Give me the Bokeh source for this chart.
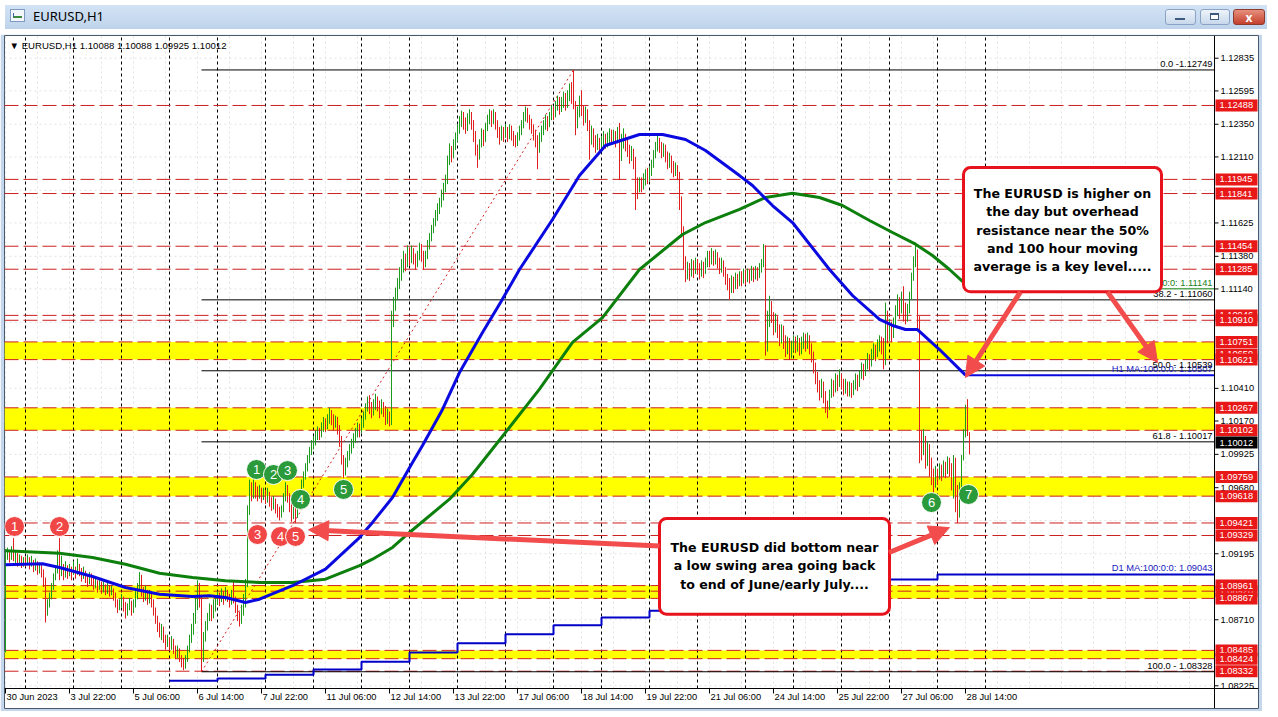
from bokeh.plotting import figure
from bokeh.models import (Range1d, Label, BoxAnnotation, Arrow, NormalHead, Div)
from bokeh.layouts import column
from bokeh.core.properties import value
from bokeh.embed import file_html
from bokeh.resources import INLINE

# ---------------------------------------------------------------- data
SYMBOL = "EURUSD,H1"
last_ohlc = ["1.10088", "1.10088", "1.09925", "1.10012"]

PIP_BASE = 1.08000          # bar values below are pips above 1.08000
first_open = 50

bar_close = [
    118,120,116,121,117,119,114,116,113,115,
    113,116,112,114,110,112,108,110,106,100,76,82,88,95,102,108,112,106,110,104,109,105,108,104,
    108,105,110,107,103,106,102,99,103,100,96,99,95,98,94,96,92,95,91,93,89,84,80,83,
    86,81,76,80,84,78,82,88,94,100,92,88,91,86,89,84,78,72,67,62,65,58,54,57,
    52,55,50,46,48,43,40,37,42,49,56,63,70,80,92,85,44,58,66,72,78,74,80,84,
    88,85,90,86,91,88,84,89,86,80,74,70,78,84,97,150,168,164,170,166,162,166,163,165,
    160,163,158,155,158,153,150,148,152,160,168,162,154,148,152,147,156,163,170,176,182,188,194,199,
    202,206,210,207,212,216,213,218,222,219,215,218,212,204,190,180,186,191,196,200,204,208,212,210,
    215,220,226,231,228,224,229,233,229,225,229,224,218,222,218,290,302,310,318,324,330,337,332,340,
    336,341,337,333,338,344,339,333,338,345,351,357,362,367,372,377,382,388,393,408,416,412,419,424,
    430,436,441,437,433,438,442,436,428,418,411,420,428,424,432,438,443,438,442,436,430,426,431,427,
    431,427,432,428,424,421,426,430,435,440,445,440,436,432,428,424,418,425,430,434,438,435,441,446,
    443,448,452,447,451,455,450,455,460,456,450,436,444,451,446,440,444,436,425,430,424,419,423,418,
    422,426,421,425,429,424,428,423,429,412,420,426,420,416,412,415,408,392,388,392,390,395,398,396,
    400,405,412,418,423,419,415,418,412,407,410,404,400,403,398,380,358,335,324,330,326,332,328,334,
    330,326,331,328,333,338,335,340,336,339,334,330,333,328,322,318,314,320,316,322,318,324,320,325,
    321,326,322,327,323,328,324,329,332,343,272,290,302,294,286,292,284,278,284,276,270,275,268,272,
    277,272,276,270,274,279,274,278,272,266,258,250,244,238,244,236,228,226,236,244,240,248,244,250,
    245,240,244,239,242,238,243,248,244,250,256,252,258,263,259,265,270,266,272,276,271,262,292,280,
    286,280,288,296,304,298,306,300,294,298,308,322,334,340,292,202,196,204,190,198,186,178,172,180,
    176,182,178,184,180,186,182,174,186,166,150,165,190,208,224,208.8,201.2,
]
bar_high = [
    123,124,122,125,131,121,120,119,118,117,
    117,119,117,118,115,116,114,113,111,108,102,86,91,98,105,111,122,131,118,112,114,111,112,110,
    114,110,116,112,109,110,107,104,106,105,102,102,100,101,99,99,97,98,96,96,94,91,86,86,
    90,88,84,83,87,85,86,92,98,106,104,95,96,93,93,90,86,80,74,69,68,66,60,60,
    58,59,57,52,52,50,45,43,45,52,60,68,76,88,100,98,88,62,70,76,83,82,86,89,
    92,91,94,92,95,93,90,93,99,88,82,77,82,90,101,155,174,172,174,172,169,170,168,168,
    166,168,165,161,162,160,156,154,155,164,172,170,164,157,156,154,160,167,174,180,186,192,198,203,
    206,210,213,212,216,220,219,222,227,225,222,221,220,214,206,192,190,195,200,204,208,212,216,215,
    219,224,230,235,236,231,233,237,235,232,233,231,228,226,224,298,308,315,322,330,336,342,340,346,
    344,346,344,340,342,348,347,342,342,350,355,361,366,372,377,381,387,392,398,412,421,419,424,429,
    435,441,445,444,440,443,446,444,438,430,420,424,432,431,436,442,446,445,446,444,438,433,434,433,
    435,433,435,434,430,427,429,434,438,444,448,447,442,439,435,431,427,429,434,438,442,441,444,449,
    448,452,456,455,455,459,458,460,465,466,475,452,448,456,460,449,448,446,438,434,432,427,428,425,
    426,430,428,429,432,431,431,430,433,436,428,432,428,424,420,419,417,411,396,396,396,399,402,403,
    404,409,416,422,427,425,422,421,420,415,414,412,408,407,405,400,382,360,338,334,333,336,335,337,
    336,333,335,334,337,342,342,344,342,343,341,337,337,335,330,325,322,324,323,326,325,327,327,329,
    328,329,328,331,330,331,330,333,336,347,346,298,309,305,297,296,294,288,288,287,280,279,278,276,
    280,279,280,278,279,282,281,282,280,274,268,260,253,247,248,246,239,232,240,248,247,252,251,255,
    252,248,248,246,246,245,247,252,251,254,260,259,262,267,266,270,274,273,277,280,279,278,304,298,
    292,290,293,302,310,308,312,316,304,303,312,326,338,348,343,294,210,211,206,202,200,190,182,184,
    182,186,185,188,187,191,190,186,192,190,170,172,192,211,229,233,208.8,
]
bar_low = [
    47,115,113,115,114,112,110,111,109,110,
    110,111,108,110,106,107,104,105,102,95,69,74,80,86,93,100,105,100,103,100,102,101,103,100,
    104,101,104,103,99,101,98,95,97,96,93,94,91,93,90,91,89,90,88,89,85,80,76,78,
    80,77,72,74,78,74,76,80,86,92,88,84,85,82,83,80,74,68,62,58,56,54,49,51,
    48,49,46,42,43,40,36,34,35,40,47,54,60,68,78,80,33,40,55,63,70,70,72,77,
    82,81,84,82,85,84,80,82,83,76,70,66,68,74,80,95,148,158,160,160,158,160,157,159,
    156,157,154,151,152,149,146,144,146,150,158,157,150,143,145,142,146,154,161,168,174,180,186,192,
    196,199,203,203,205,209,209,211,215,214,210,212,207,198,185,175,177,183,188,193,197,201,205,205,
    208,212,218,224,222,219,221,225,224,219,222,220,214,215,213,214,286,298,306,314,320,326,327,330,
    331,333,332,328,330,335,334,328,330,336,343,349,355,360,364,369,374,379,385,391,405,407,410,416,
    422,428,433,431,428,430,435,431,422,412,403,409,418,419,422,430,435,433,435,431,425,420,423,422,
    425,422,424,423,419,418,419,423,427,432,437,436,431,428,423,418,402,414,422,427,431,430,433,438,
    438,440,445,442,444,447,445,447,452,450,446,427,432,440,441,434,436,430,409,420,418,414,416,414,
    416,419,417,418,421,420,421,418,421,394,408,417,415,411,406,408,402,372,380,385,385,387,390,391,
    393,397,403,410,415,414,410,411,407,402,403,399,396,397,394,372,352,328,319,321,320,323,322,325,
    325,321,323,322,325,330,330,332,331,332,329,325,326,323,317,313,306,311,311,314,314,316,316,318,
    317,319,318,320,319,321,320,322,326,330,265,268,286,289,280,282,278,272,274,270,264,266,262,263,
    268,267,268,265,266,270,268,270,266,260,252,244,238,232,234,230,223,219,225,234,235,238,239,242,
    240,236,237,235,235,234,236,240,239,242,248,247,250,255,254,257,262,261,264,268,266,255,258,274,
    276,275,278,286,294,292,296,290,288,290,296,306,320,330,285,186,188,192,182,184,176,170,164,168,
    170,174,173,176,175,178,176,166,160,150,142,146,160,188,205,206,192.5,
]

# time axis (bar index of each label) and labels
x_tick_bars = [0, 32, 64, 96, 128, 160, 192, 224, 256, 288, 320, 352, 384, 416, 448, 480]
x_tick_labels = ["30 Jun 2023", "3 Jul 22:00", "5 Jul 06:00", "6 Jul 14:00", "7 Jul 22:00",
                 "11 Jul 06:00", "12 Jul 14:00", "13 Jul 22:00", "17 Jul 06:00", "18 Jul 14:00",
                 "19 Jul 22:00", "21 Jul 06:00", "24 Jul 14:00", "25 Jul 22:00", "27 Jul 06:00",
                 "28 Jul 14:00"]
day_start_bars = [10, 34, 58, 82, 106, 130, 154, 178, 202, 226, 250, 274, 298, 322, 346,
                  370, 394, 418, 442, 466, 490]

# price axis
price_ticks = [1.12835, 1.12595, 1.12350, 1.12110, 1.11625, 1.11380, 1.11140, 1.10410,
               1.10170, 1.09925, 1.09680, 1.09195, 1.08710, 1.08225]
price_grid = [1.12835, 1.12595, 1.12350, 1.12110, 1.11865, 1.11625, 1.11380, 1.11140,
              1.10895, 1.10655, 1.10410, 1.10170, 1.09925, 1.09680, 1.09440, 1.09195,
              1.08955, 1.08710, 1.08470, 1.08225]

# horizontal levels
level_lines = [1.12488, 1.11945, 1.11841, 1.11454, 1.11285, 1.10946, 1.10910, 1.10751,
               1.10621, 1.10267, 1.10102, 1.09759, 1.09618, 1.09421, 1.09329, 1.08961,
               1.08920, 1.08867, 1.08485, 1.08424, 1.08332]
level_labels = [1.12488, 1.11945, 1.11841, 1.11454, 1.11285, 1.10946, 1.10910, 1.10751,
                1.10659, 1.10621, 1.10267, 1.10102, 1.09759, 1.09618, 1.09421, 1.09329,
                1.08920, 1.08961, 1.08867, 1.08485, 1.08424, 1.08332]
zone_top = [1.10751, 1.10267, 1.09759, 1.08961, 1.08485]
zone_bottom = [1.10621, 1.10102, 1.09618, 1.08867, 1.08424]
current_price = 1.10012

# Fibonacci retracement
fib_low_bar, fib_high_bar = 98, 284
fib_low, fib_high = 1.08328, 1.12749
fib_levels = [1.12749, 1.11060, 1.10539, 1.10017, 1.08328]
fib_texts = ["0.0 -1.12749", "38.2 - 1.11060", "50.0 - 1.10539", "61.8 - 1.10017", "100.0 - 1.08328"]

# moving averages
ma100_bar = [0, 18.5, 27, 43.5, 60, 77, 93.5, 102, 110, 120, 127, 143.5, 160, 177, 183.5, 193.5,
             203.5, 208.5, 218.5, 227, 238.5, 247.5, 257, 273.5, 287, 300, 317, 328.5, 340, 350,
             367, 373.5, 383.5, 393.5, 412, 423.5, 437, 443.5, 450, 456, 467, 480]
ma100_val = [1.09114, 1.09121, 1.09094, 1.09028, 1.08947, 1.08898, 1.08881, 1.08886, 1.08874,
             1.08837, 1.08861, 1.08960, 1.09082, 1.09314, 1.09425, 1.09608, 1.09865, 1.09990,
             1.10255, 1.10526, 1.10820, 1.11041, 1.11283, 1.11650, 1.11973, 1.12194, 1.12275,
             1.12275, 1.12238, 1.12157, 1.11973, 1.11900, 1.11753, 1.11628, 1.11283, 1.11092,
             1.10916, 1.10872, 1.10842, 1.10842, 1.10695, 1.10507]
ma200_bar = [0, 27, 43.5, 60, 77, 93.5, 110, 127, 143.5, 160, 177, 183.5, 193.5, 202, 222, 233.5,
             250, 267, 283.5, 298.5, 317, 338.5, 350, 367, 380, 393.5, 407, 418.5, 432, 443.5,
             455, 463.5, 472, 480]
ma200_val = [1.09217, 1.09199, 1.09167, 1.09118, 1.09052, 1.09021, 1.08996, 1.08984, 1.08984,
             1.09008, 1.09107, 1.09155, 1.09241, 1.09351, 1.09596, 1.09779, 1.10086, 1.10404,
             1.10747, 1.10930, 1.11283, 1.11540, 1.11628, 1.11724, 1.11812, 1.11843, 1.11812,
             1.11753, 1.11643, 1.11555, 1.11469, 1.11386, 1.11283, 1.11175]
h1_ma100_now, h1_ma200_now = 1.10507, 1.11141
d1_ma_bar = [82, 106, 130, 154, 178, 202, 226, 250, 274, 298, 322, 346, 370, 394, 418, 442, 466]
d1_ma_val = [1.08262, 1.08279, 1.08306, 1.08345, 1.08401, 1.08470, 1.08538, 1.08604, 1.08670,
             1.08727, 1.08776, 1.08822, 1.08870, 1.08915, 1.08960, 1.09006, 1.09043]

# numbered swing markers
red_mark_bar = [4.5, 27, 126, 137.5, 145]
red_mark_price = [1.09395, 1.09395, 1.09336, 1.09322, 1.09322]
red_mark_text = ["1", "2", "3", "4", "5"]
green_mark_bar = [125.5, 134, 141, 147.5, 169, 463, 481.5]
green_mark_price = [1.09814, 1.09777, 1.09806, 1.09594, 1.09667, 1.09571, 1.09630]
green_mark_text = ["1", "2", "3", "4", "5", "6", "7"]

# notes
note1_lines = ["The EURUSD is higher on", "the day but overhead", "resistance near the 50%",
               "and 100 hour moving", "average is a key level....."]
note1_y = [1.11839, 1.11707, 1.11572, 1.11439, 1.11307]
note1_box = (479, 578, 1.12032, 1.11119)
note2_lines = ["The EURUSD did bottom near", "a low swing area going back",
               "to end of June/early July...."]
note2_y = [1.09241, 1.09107, 1.08971]
note2_box = (327, 442, 1.09454, 1.08751)
note_arrows = [(507.5, 1.11119, 480, 1.10490), (551, 1.11119, 576, 1.10600),
               (327, 1.09251, 151.5, 1.09371), (441.8, 1.09204, 472, 1.09387)]

# ---------------------------------------------------------------- layout / styles
CHART_W, CHART_H = 1210, 653          # price-chart area in px
FRAME_W, FRAME_H = 1254, 673          # chart + price scale + time scale
X_START, X_END = -0.5, 604.5          # bar-index span of the chart area
Y_LOW, Y_HIGH = 1.08205, 1.13002      # price span of the chart area
BAR_PX = (X_END - X_START) / CHART_W
PRICE_PX = (Y_HIGH - Y_LOW) / CHART_H
FRAME_X_END = X_START + FRAME_W * BAR_PX
FRAME_Y_LOW = Y_HIGH - FRAME_H * PRICE_PX

UP, DOWN = "#1c9a1c", "#e01e1e"
LEVEL_RED = "#cc1f1f"
TAG_RED = "#e81818"
ARROW_RED = "#f24c4c"
FONT = "Liberation Sans"
FS = "9.3px"
GRID = "#e2e2e2"

def price(v):
    return PIP_BASE + v / 10000.0

opens = [first_open] + bar_close[:-1]
idx = list(range(len(bar_close)))
hi_p = [price(v) for v in bar_high]
lo_p = [price(v) for v in bar_low]
bar_col = [UP if c >= o else DOWN for o, c in zip(opens, bar_close)]

p = figure(width=1262, height=677, title=None,
           x_range=Range1d(X_START, FRAME_X_END), y_range=Range1d(FRAME_Y_LOW, Y_HIGH),
           x_axis_location=None, y_axis_location=None,
           toolbar_location=None, output_backend="svg",
           min_border_left=4, min_border_right=4, min_border_top=1, min_border_bottom=3,
           background_fill_color="white", border_fill_color="#c5d7ec")
p.outline_line_color = "#4a5a6a"
p.outline_line_width = 1
p.xgrid.visible = False
p.ygrid.visible = False

# light grid (chart area only)
vgrid = list(range(0, 605, 16))
p.segment(x0=vgrid, x1=vgrid, y0=[Y_LOW] * len(vgrid), y1=[Y_HIGH] * len(vgrid),
          line_color=GRID, line_dash="2 3", line_width=1)
p.segment(x0=[X_START] * len(price_grid), x1=[X_END] * len(price_grid), y0=price_grid,
          y1=price_grid, line_color=GRID, line_dash="2 3", line_width=1)

# zones, separators, levels
p.quad(left=X_START, right=X_END, top=zone_top, bottom=zone_bottom, fill_color="#ffff00",
       line_alpha=0)
p.segment(x0=day_start_bars, x1=day_start_bars, y0=[Y_LOW] * len(day_start_bars),
          y1=[Y_HIGH] * len(day_start_bars), line_color="black", line_dash="3 3", line_width=1)
p.segment(x0=[X_START] * len(level_lines), x1=[X_END] * len(level_lines), y0=level_lines,
          y1=level_lines, line_color=LEVEL_RED, line_dash="14 5", line_width=1)

# fibonacci
p.segment(x0=[fib_low_bar] * len(fib_levels), x1=[X_END] * len(fib_levels),
          y0=fib_levels, y1=fib_levels, line_color="black", line_width=1)
p.segment(x0=[fib_low_bar], y0=[fib_low], x1=[fib_high_bar], y1=[fib_high],
          line_color="#d42020", line_dash="2 3", line_width=1)

# bars
p.segment(x0=idx, x1=idx, y0=lo_p, y1=hi_p, line_color=bar_col, line_width=1)

# moving averages
p.line(ma200_bar, ma200_val, line_color="#0c7f0c", line_width=3)
p.line(ma100_bar, ma100_val, line_color="#0a0ae0", line_width=3)
p.segment(x0=[ma100_bar[-1]], x1=[X_END], y0=[h1_ma100_now], y1=[h1_ma100_now],
          line_color="#0a0ae0", line_width=2)
p.segment(x0=[ma200_bar[-1]], x1=[X_END], y0=[h1_ma200_now], y1=[h1_ma200_now],
          line_color="#0c7f0c", line_width=1)
p.step(d1_ma_bar + [X_END], d1_ma_val + [d1_ma_val[-1]], mode="after",
       line_color="#0000c8", line_width=2)

# object texts on the right of the chart
right_texts = fib_texts + ["H1 MA:100:0:0: %.5f" % h1_ma100_now,
                           "D1 MA:100:0:0: %.5f" % d1_ma_val[-1],
                           "H1 MA:200:0:0: %.5f" % h1_ma200_now]
right_y = fib_levels + [h1_ma100_now, d1_ma_val[-1], h1_ma200_now]
right_col = ["black"] * len(fib_texts) + ["#2020c0", "#2020c0", "#208020"]
order = [5, 7, 6, 0, 1, 2, 3, 4]
p.text(x=[X_END] * len(order), y=[right_y[k] for k in order], text=[right_texts[k] for k in order],
       text_color=[right_col[k] for k in order], x_offset=-2, y_offset=-1,
       text_align="right", text_baseline="bottom",
       text_font=value(FONT), text_font_size=value(FS))

# swing markers
p.scatter(red_mark_bar, red_mark_price, size=20, fill_color="#f04646", line_color="white",
          line_width=1)
p.text(red_mark_bar, red_mark_price, text=red_mark_text, text_color="white",
       text_align="center", text_baseline="middle", text_font=value(FONT),
       text_font_size=value("13px"))
p.scatter(green_mark_bar, green_mark_price, size=20, fill_color="#2a9a3a", line_color="white",
          line_width=1)
p.text(green_mark_bar, green_mark_price, text=green_mark_text, text_color="white",
       text_align="center", text_baseline="middle", text_font=value(FONT),
       text_font_size=value("13px"))

# ---- price scale (right) and time scale (bottom)
p.segment(x0=[X_END], x1=[X_END], y0=[FRAME_Y_LOW], y1=[Y_HIGH], line_color="black", line_width=1)
p.segment(x0=[X_START], x1=[FRAME_X_END], y0=[Y_LOW], y1=[Y_LOW], line_color="black", line_width=1)
p.segment(x0=[X_END] * len(price_ticks), x1=[X_END + 4 * BAR_PX] * len(price_ticks),
          y0=price_ticks, y1=price_ticks, line_color="black", line_width=1)
p.text(x=[X_END] * len(price_ticks), y=price_ticks, text=["%.5f" % v for v in price_ticks],
       x_offset=6, text_align="left", text_baseline="middle", text_color="black",
       text_font=value(FONT), text_font_size=value(FS))
p.segment(x0=x_tick_bars, x1=x_tick_bars, y0=[Y_LOW] * len(x_tick_bars),
          y1=[Y_LOW - 5 * PRICE_PX] * len(x_tick_bars), line_color="black", line_width=1)
p.text(x=x_tick_bars, y=[Y_LOW] * len(x_tick_bars), text=x_tick_labels, x_offset=1, y_offset=3,
       text_align="left", text_baseline="top", text_color="black",
       text_font=value(FONT), text_font_size=value(FS))

# price tags: each tag box is drawn with its own text so later tags cover earlier ones
tag_vals = level_labels + [current_price]
tag_cols = [TAG_RED] * len(level_labels) + ["black"]
tag_x = X_END + 22 * BAR_PX
for v, c in zip(tag_vals, tag_cols):
    p.rect(x=[tag_x], y=[v], width=42, height=12, width_units="screen",
           height_units="screen", fill_color=c, line_color=None)
    p.text(x=[X_END], y=[v], text=["%.5f" % v], x_offset=5,
           text_align="left", text_baseline="middle", text_color="white",
           text_font=value(FONT), text_font_size=value(FS))

# ---- notes
box_kw = {}
if "border_radius" in BoxAnnotation.properties():
    box_kw["border_radius"] = 7

for (l, r, t, b), lines, ys in ((note1_box, note1_lines, note1_y), (note2_box, note2_lines, note2_y)):
    p.add_layout(BoxAnnotation(left=l, right=r, top=t, bottom=b, fill_color="white", fill_alpha=1,
                               line_color="#e8121c", line_width=3, line_alpha=1, **box_kw))
    for txt, yy in zip(lines, ys):
        p.add_layout(Label(x=(l + r) / 2, y=yy, text=txt, text_align="center",
                           text_baseline="middle", text_font="DejaVu Sans",
                           text_font_style="bold", text_font_size="12.6px", text_color="black"))

for xs, ys, xe, ye in note_arrows:
    p.add_layout(Arrow(end=NormalHead(size=20, fill_color=ARROW_RED, line_color=ARROW_RED),
                       x_start=xs, y_start=ys, x_end=xe, y_end=ye,
                       line_color=ARROW_RED, line_width=5))

# header
p.add_layout(Label(x=5, y=FRAME_H - 10, x_units="screen", y_units="screen",
                   text="\u25bc " + SYMBOL + "  " + " ".join(last_ohlc),
                   text_baseline="middle", text_align="left", text_font=FONT,
                   text_font_size="9.6px", text_color="black"))

title_html = (
    '<div style="position:relative;width:1262px;height:24px;overflow:hidden;'
    'background:linear-gradient(180deg,#d3e3f5 0%,#bed3eb 100%);'
    "font-family:'Noto Sans',sans-serif;\">"
    '<div style="position:absolute;left:5px;top:4px;width:15px;height:13px;background:#f3f7fc;'
    'border:1px solid #7d9cc0;"></div>'
    '<div style="position:absolute;left:8px;top:8px;width:9px;height:5px;'
    'border-bottom:2px solid #3a8a3a;border-left:1px solid #4060a0;"></div>'
    '<div style="position:absolute;left:28px;top:3px;font-size:13px;line-height:17px;color:#000;">'
    + SYMBOL + '</div>'
    '<div style="position:absolute;left:1160px;top:4px;width:31px;height:16px;border:1px solid #8aa3c2;'
    'border-radius:3px;background:linear-gradient(#edf3fa,#c8d8eb);"></div>'
    '<div style="position:absolute;left:1170px;top:13px;width:10px;height:2px;background:#fff;'
    'border:1px solid #3c5a7c;"></div>'
    '<div style="position:absolute;left:1195px;top:4px;width:30px;height:16px;border:1px solid #8aa3c2;'
    'border-radius:3px;background:linear-gradient(#edf3fa,#c8d8eb);"></div>'
    '<div style="position:absolute;left:1205px;top:8px;width:9px;height:7px;background:#fff;'
    'border:1px solid #3c5a7c;border-top:2px solid #3c5a7c;"></div>'
    '<div style="position:absolute;left:1228px;top:4px;width:32px;height:16px;border:1px solid #8c3a2e;'
    'border-radius:3px;background:linear-gradient(#e7907e,#c4402c);color:#fff;font-weight:bold;'
    'font-size:12px;line-height:16px;text-align:center;">x</div>'
    '</div>'
)
title_bar = Div(text=title_html, width=1262, height=24)

layout = column(title_bar, p)
open("out.html", "w").write(file_html(layout, INLINE))
